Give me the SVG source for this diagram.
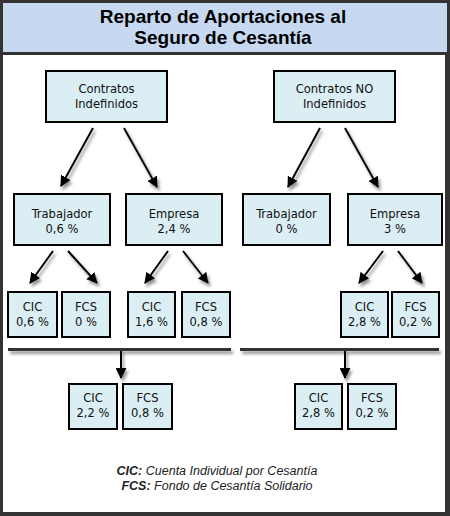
<svg xmlns="http://www.w3.org/2000/svg" width="450" height="516" viewBox="0 0 450 516">
<defs>
<style>
.box{fill:#dbeef4;stroke:#000;stroke-width:2}
.t{font-family:"DejaVu Sans Condensed","DejaVu Sans",sans-serif;font-stretch:condensed;font-size:12.8px;fill:#111;text-anchor:middle}
.title{font-family:"Liberation Sans",Arial,sans-serif;font-size:19px;font-weight:bold;fill:#000;text-anchor:middle}
.leg{font-family:"Liberation Sans",Arial,sans-serif;font-size:12.5px;font-style:italic;fill:#222;text-anchor:middle}
.arr{stroke:#000;stroke-width:2;fill:none;marker-end:url(#ah)}
.bar{stroke:#333;stroke-width:3;fill:none}
</style>
<marker id="ah" viewBox="0 0 10 10" refX="9" refY="5" markerWidth="5.5" markerHeight="5.5" orient="auto" markerUnits="strokeWidth">
<path d="M0,0 L10,5 L0,10 z" fill="#000"/>
</marker>
<filter id="sh" x="-30%" y="-30%" width="160%" height="160%">
<feDropShadow dx="2" dy="3" stdDeviation="1.6" flood-color="#777" flood-opacity="0.8"/>
</filter>
</defs>
<rect x="0" y="0" width="450" height="516" fill="#333"/>
<rect x="3" y="3" width="444" height="49" fill="#c6d9f0"/>
<rect x="3" y="55" width="442" height="457" fill="#fff"/>
<g id="title">
<text class="title" x="223" y="23">Reparto de Aportaciones al</text>
<text class="title" x="223" y="44">Seguro de Cesantía</text>
</g>
<g id="connectors" filter="url(#sh)">
<line class="arr" x1="93" y1="128" x2="61" y2="186"/>
<line class="arr" x1="124" y1="128" x2="157" y2="187"/>
<line class="arr" x1="320" y1="128" x2="288" y2="187"/>
<line class="arr" x1="345" y1="128" x2="378" y2="187"/>
<line class="arr" x1="53" y1="251" x2="30" y2="283"/>
<line class="arr" x1="68" y1="251" x2="97" y2="283"/>
<line class="arr" x1="168" y1="251" x2="145" y2="283"/>
<line class="arr" x1="183" y1="251" x2="208" y2="283"/>
<line class="arr" x1="383" y1="251" x2="359" y2="283"/>
<line class="arr" x1="398" y1="251" x2="422" y2="283"/>
<line class="bar" x1="8" y1="349.5" x2="231" y2="349.5"/>
<line class="bar" x1="240" y1="349.5" x2="439" y2="349.5"/>
<line class="arr" x1="121" y1="351" x2="121" y2="378"/>
<line class="arr" x1="345" y1="351" x2="345" y2="378"/>
</g>
<g id="ci"><rect class="box" x="46" y="71" width="121" height="51"/><text class="t" x="106.5" y="92.5">Contratos</text><text class="t" x="106.5" y="107.5">Indefinidos</text></g>
<g id="cni"><rect class="box" x="274" y="71" width="121" height="51"/><text class="t" x="334.5" y="92.5">Contratos NO</text><text class="t" x="334.5" y="107.5">Indefinidos</text></g>
<g id="trab1"><rect class="box" x="14" y="194" width="96" height="51"/><text class="t" x="62" y="217.5">Trabajador</text><text class="t" x="62" y="232.5">0,6 %</text></g>
<g id="emp1"><rect class="box" x="126" y="194" width="96" height="51"/><text class="t" x="174" y="217.5">Empresa</text><text class="t" x="174" y="232.5">2,4 %</text></g>
<g id="trab2"><rect class="box" x="243" y="194" width="87" height="51"/><text class="t" x="286.5" y="217.5">Trabajador</text><text class="t" x="286.5" y="232.5">0 %</text></g>
<g id="emp2"><rect class="box" x="348" y="194" width="94" height="51"/><text class="t" x="395" y="217.5">Empresa</text><text class="t" x="395" y="232.5">3 %</text></g>
<g id="cic1"><rect class="box" x="8" y="292" width="49" height="45"/><text class="t" x="32.5" y="311">CIC</text><text class="t" x="32.5" y="326">0,6 %</text></g>
<g id="fcs1"><rect class="box" x="62" y="292" width="48" height="45"/><text class="t" x="86" y="311">FCS</text><text class="t" x="86" y="326">0 %</text></g>
<g id="cic2"><rect class="box" x="128" y="292" width="47" height="45"/><text class="t" x="151.5" y="311">CIC</text><text class="t" x="151.5" y="326">1,6 %</text></g>
<g id="fcs2"><rect class="box" x="182" y="292" width="48" height="45"/><text class="t" x="206" y="311">FCS</text><text class="t" x="206" y="326">0,8 %</text></g>
<g id="cic3"><rect class="box" x="341" y="292" width="47" height="45"/><text class="t" x="364.5" y="311">CIC</text><text class="t" x="364.5" y="326">2,8 %</text></g>
<g id="fcs3"><rect class="box" x="392" y="292" width="47" height="45"/><text class="t" x="415.5" y="311">FCS</text><text class="t" x="415.5" y="326">0,2 %</text></g>
<g id="cicL"><rect class="box" x="69" y="384" width="48" height="45"/><text class="t" x="93" y="402">CIC</text><text class="t" x="93" y="417">2,2 %</text></g>
<g id="fcsL"><rect class="box" x="123" y="384" width="49" height="45"/><text class="t" x="147.5" y="402">FCS</text><text class="t" x="147.5" y="417">0,8 %</text></g>
<g id="cicR"><rect class="box" x="295" y="384" width="47" height="45"/><text class="t" x="318.5" y="402">CIC</text><text class="t" x="318.5" y="417">2,8 %</text></g>
<g id="fcsR"><rect class="box" x="348" y="384" width="48" height="45"/><text class="t" x="372" y="402">FCS</text><text class="t" x="372" y="417">0,2 %</text></g>
<g id="legend">
<text class="leg" x="217" y="475"><tspan font-weight="bold">CIC:</tspan> Cuenta Individual por Cesantía</text>
<text class="leg" x="217" y="490"><tspan font-weight="bold">FCS:</tspan> Fondo de Cesantía Solidario</text>
</g>
</svg>
